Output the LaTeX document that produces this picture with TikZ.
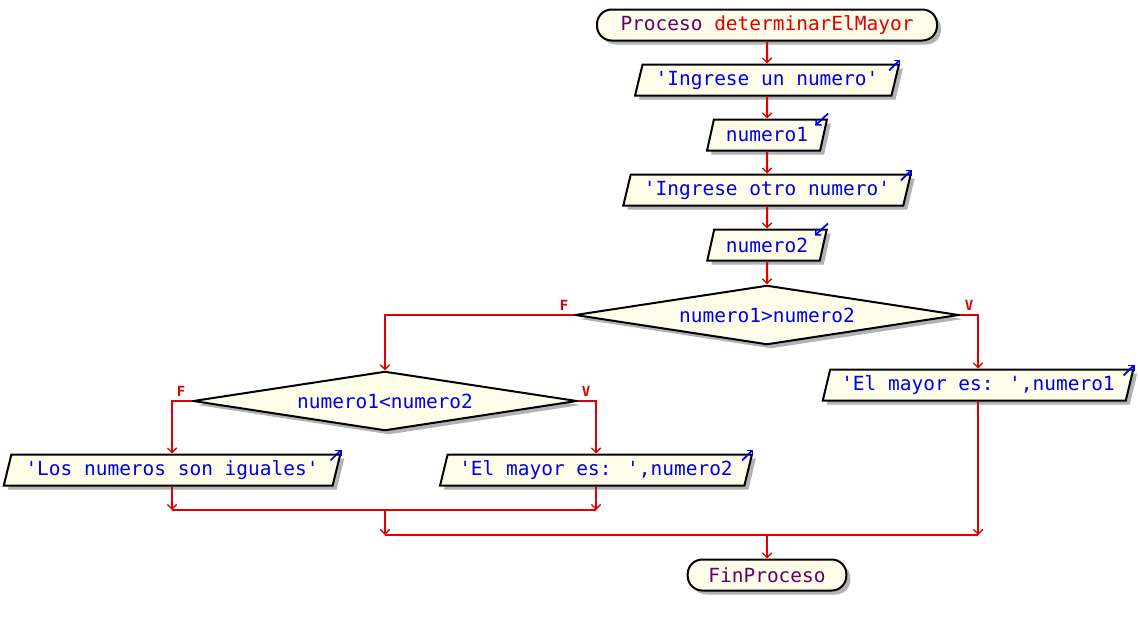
\documentclass[tikz,border=0pt]{standalone}
\usepackage{fontspec}
\newfontfamily\pmono{DejaVu Sans Mono}
\usetikzlibrary{shapes.geometric,arrows.meta,shadows}
\definecolor{pfill}{RGB}{253,253,233}
\definecolor{pblue}{RGB}{0,0,230}
\definecolor{pred}{RGB}{225,0,0}
\definecolor{ppurple}{RGB}{102,0,102}
\definecolor{pshadow}{RGB}{178,178,178}
\begin{document}
\begin{tikzpicture}[x=0.75pt,y=-0.75pt,
  box/.style={draw=black, line width=1.5pt, fill=pfill, text=pblue,
    font=\pmono\fontsize{14.6}{16}\selectfont, inner sep=0pt,
    drop shadow={shadow xshift=3pt, shadow yshift=-3pt, fill=pshadow, opacity=1}},
  io/.style={box, trapezium, trapezium left angle=70, trapezium right angle=110,
    trapezium stretches=true, minimum height=23.25pt, minimum width=#1},
  term/.style={box, rectangle, rounded corners=11pt, minimum height=23.25pt, minimum width=#1},
  cond/.style={box, diamond, aspect=6.5, minimum width=288pt, minimum height=44.5pt},
  flow/.style={draw=pred, line width=1.5pt, -{Straight Barb[length=3.5pt,width=7pt,line width=1pt]}},
  plain/.style={draw=pred, line width=1.5pt},
  icon/.style={draw=pblue, line width=1.3pt, -{Straight Barb[length=3pt,width=6pt,line width=1.1pt]}},
  lab/.style={text=pred, font=\pmono\bfseries\fontsize{10.5}{11}\selectfont, inner sep=0pt}
]
\useasboundingbox[fill=white] (0,0) rectangle (1138,625);

% nodes
\node[term=255pt] (start) at (767,25) {\textcolor{ppurple}{Proceso} \textcolor{pred}{determinarElMayor}};
\node[io=198pt] (in1) at (767,80) {'Ingrese un numero'};
\node[io=90pt] (rd1) at (767,135) {numero1};
\node[io=216pt] (in2) at (767,190) {'Ingrese otro numero'};
\node[io=90pt] (rd2) at (767,245) {numero2};
\node[cond] (d1) at (767,315) {numero1>numero2};
\node[cond] (d2) at (385,401) {numero1<numero2};
\node[io=233pt] (out1) at (978,385) {'El mayor es: ',numero1};
\node[io=253pt] (los) at (172,470) {'Los numeros son iguales'};
\node[io=234pt] (out2) at (596,470) {'El mayor es: ',numero2};
\node[term=119pt] (fin) at (767,575) {\textcolor{ppurple}{FinProceso}};

% io icons
\foreach \n in {in1,in2,out1,los,out2}{
  \draw[icon] ([shift={(-11,7)}]\n.top right corner) -- ([shift={(0,-4)}]\n.top right corner);
}
\foreach \n in {rd1,rd2}{
  \draw[icon] ([shift={(0,-5)}]\n.top right corner) -- ([shift={(-13,7)}]\n.top right corner);
}

% labels
\node[lab] (f1) at ([shift={(-10,-10)}]d1.west) {F};
\node[lab] (v1) at ([shift={(9,-10)}]d1.east) {V};
\node[lab] (f2) at ([shift={(-11,-10)}]d2.west) {F};
\node[lab] (v2) at ([shift={(8,-10)}]d2.east) {V};

% merge points
\coordinate (m1) at (385,510);
\coordinate (m2) at (767,535);

% connectors
\draw[flow] (start) -- (in1);
\draw[flow] (in1) -- (rd1);
\draw[flow] (rd1) -- (in2);
\draw[flow] (in2) -- (rd2);
\draw[flow] (rd2) -- (d1);
\draw[flow] (d1.west) -| (d2.north);
\draw[flow] (d1.east) -| (out1.north);
\draw[flow] (d2.west) -| (los.north);
\draw[flow] (d2.east) -| (out2.north);
\draw[flow] (los.south) -- (los.south |- m1);
\draw[flow] (out2.south) -- (out2.south |- m1);
\draw[plain] (los.south |- m1) -- (out2.south |- m1);
\draw[flow] (m1) -- (m1 |- m2);
\draw[flow] (out1.south) -- (out1.south |- m2);
\draw[plain] (m1 |- m2) -- (out1.south |- m2);
\draw[flow] (m2) -- (fin.north);
\end{tikzpicture}
\end{document}
